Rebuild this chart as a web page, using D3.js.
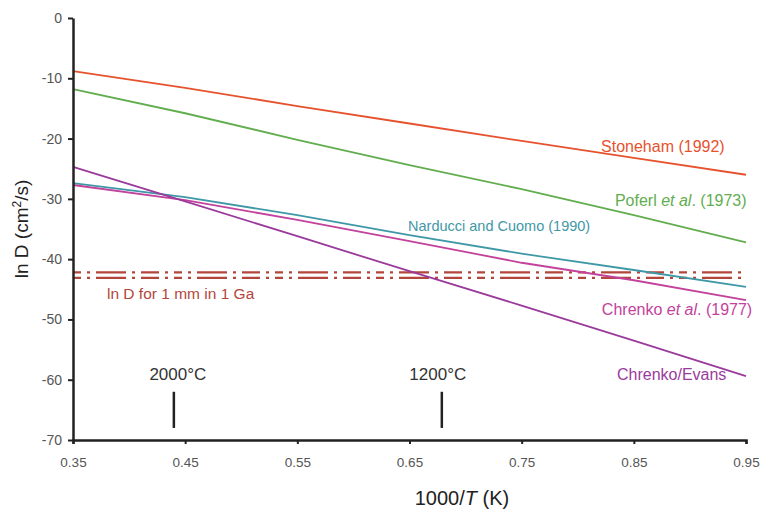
<!DOCTYPE html>
<html>
<head>
<meta charset="utf-8">
<script src="https://cdn.jsdelivr.net/npm/d3@7"></script>
<style>
  body { margin: 0; background: #fff; }
  text { font-family: "Liberation Sans", Arial, sans-serif; }
</style>
</head>
<body>
<div id="chart"></div>
<script>
// x positions (1000/T) where values were read
const xs = [0.35, 0.45, 0.55, 0.65, 0.75, 0.85, 0.95]
const stoneham = [-8.8, -11.6, -14.6, -17.5, -20.4, -23.2, -26.0]
const poferl = [-11.8, -15.8, -20.2, -24.4, -28.4, -32.7, -37.2]
const narducci = [-27.4, -29.7, -32.7, -36.0, -39.1, -41.8, -44.6]
const chrenko = [-27.7, -30.2, -33.5, -37.0, -40.6, -43.5, -46.8]
const chrenkoEvans = [-24.7, -30.4, -36.2, -42.0, -47.7, -53.5, -59.4]
const refLines = [-42.2, -43.1]
const xTicks = [0.35, 0.45, 0.55, 0.65, 0.75, 0.85, 0.95]
const yTicks = [0, -10, -20, -30, -40, -50, -60, -70]
const tempMarks = ["2000°C", "1200°C"]
const tempC = [2000, 1200]

const width = 760
const height = 509
const margin = {top: 18, right: 14, bottom: 69, left: 73}

const svg = d3.select("#chart")
    .append("svg")
    .attr("width", width)
    .attr("height", height)

const x = d3.scaleLinear()
    .domain([0.35, 0.95])
    .range([margin.left, width - margin.right])

const y = d3.scaleLinear()
    .domain([-70, 0])
    .range([height - margin.bottom, margin.top])

const series = [
    {vals: stoneham, color: "#e6522e"},
    {vals: poferl, color: "#62ad4f"},
    {vals: narducci, color: "#3f98a6"},
    {vals: chrenko, color: "#c2429c"},
    {vals: chrenkoEvans, color: "#9a3a9c"}
]

const line = d3.line()
    .x((d, i) => x(xs[i]))
    .y(d => y(d))

// reference band, ln D for 1 mm in 1 Ga
svg.append("g")
    .selectAll("line")
    .data(refLines)
    .join("line")
    .attr("x1", x(0.35))
    .attr("x2", x(0.95))
    .attr("y1", d => y(d))
    .attr("y2", d => y(d))
    .attr("stroke", "#b3463b")
    .attr("stroke-width", 2.2)
    .attr("stroke-dasharray", "8,6,3,6,30,6,3,6,18,6,3,6")

svg.append("g")
    .selectAll("path")
    .data(series)
    .join("path")
    .attr("fill", "none")
    .attr("stroke", d => d.color)
    .attr("stroke-width", 1.8)
    .attr("d", d => line(d.vals))

// axes
const xAxis = svg.append("g")
    .attr("transform", `translate(0,${y(-70)})`)
    .call(d3.axisBottom(x).tickValues(xTicks).tickFormat(d3.format(".2f")).tickSize(4).tickPadding(13))
xAxis.select(".domain").attr("stroke", "#222").attr("stroke-width", 2.5)
xAxis.selectAll(".tick line").attr("stroke", "#222").attr("stroke-width", 2)
xAxis.selectAll(".tick text").attr("fill", "#555").attr("font-size", 13.5)

const yAxis = svg.append("g")
    .attr("transform", `translate(${x(0.35)},0)`)
    .call(d3.axisLeft(y).tickValues(yTicks).tickFormat(d => String(d)).tickSize(5).tickPadding(6).tickSizeOuter(0))
yAxis.select(".domain").attr("stroke", "#222").attr("stroke-width", 2.5)
yAxis.selectAll(".tick line").attr("stroke", "#222").attr("stroke-width", 2)
yAxis.selectAll(".tick text").attr("fill", "#555").attr("font-size", 14)

// temperature markers
const labelDx = [4, -4]
const tm = svg.append("g")
    .selectAll("g")
    .data(tempMarks)
    .join("g")
    .attr("transform", (d, i) => `translate(${x(1000 / (tempC[i] + 273.15))},0)`)
tm.append("line")
    .attr("y1", y(-62.0))
    .attr("y2", y(-68.0))
    .attr("stroke", "#222")
    .attr("stroke-width", 2.5)
tm.append("text")
    .attr("y", y(-60.0))
    .attr("x", (d, i) => labelDx[i])
    .attr("text-anchor", "middle")
    .attr("font-size", 17)
    .attr("fill", "#333")
    .text(d => d)

// series labels
const labels = [
    {html: "Stoneham (1992)", x: 0.931, y: -22.2, color: "#e6522e", size: 16, anchor: "end"},
    {html: "Poferl <tspan font-style='italic'>et al</tspan>. (1973)", x: 0.9505, y: -31.2, color: "#62ad4f", size: 16, anchor: "end"},
    {html: "Narducci and Cuomo (1990)", x: 0.6487, y: -35.4, color: "#3f98a6", size: 14.5, anchor: "start"},
    {html: "Chrenko <tspan font-style='italic'>et al</tspan>. (1977)", x: 0.9555, y: -49.3, color: "#c2429c", size: 16, anchor: "end"},
    {html: "Chrenko/Evans", x: 0.9325, y: -60.0, color: "#9a3a9c", size: 16, anchor: "end"},
    {html: "ln D for 1 mm in 1 Ga", x: 0.3803, y: -46.6, color: "#b3463b", size: 15.5, anchor: "start"}
]
svg.append("g")
    .selectAll("text")
    .data(labels)
    .join("text")
    .attr("x", d => x(d.x))
    .attr("y", d => y(d.y))
    .attr("text-anchor", d => d.anchor)
    .attr("font-size", d => d.size)
    .attr("fill", d => d.color)
    .html(d => d.html)

// axis titles
svg.append("text")
    .attr("transform", `translate(28,${(y(0) + y(-70)) / 2}) rotate(-90)`)
    .attr("text-anchor", "middle")
    .attr("font-size", 19)
    .attr("fill", "#222")
    .html("ln D (cm<tspan dy='-7' font-size='12'>2</tspan><tspan dy='7'>/s)</tspan>")

svg.append("text")
    .attr("x", 462)
    .attr("y", 505)
    .attr("text-anchor", "middle")
    .attr("font-size", 20)
    .attr("fill", "#222")
    .html("1000/<tspan font-style='italic'>T</tspan> (K)")
</script>
</body>
</html>
